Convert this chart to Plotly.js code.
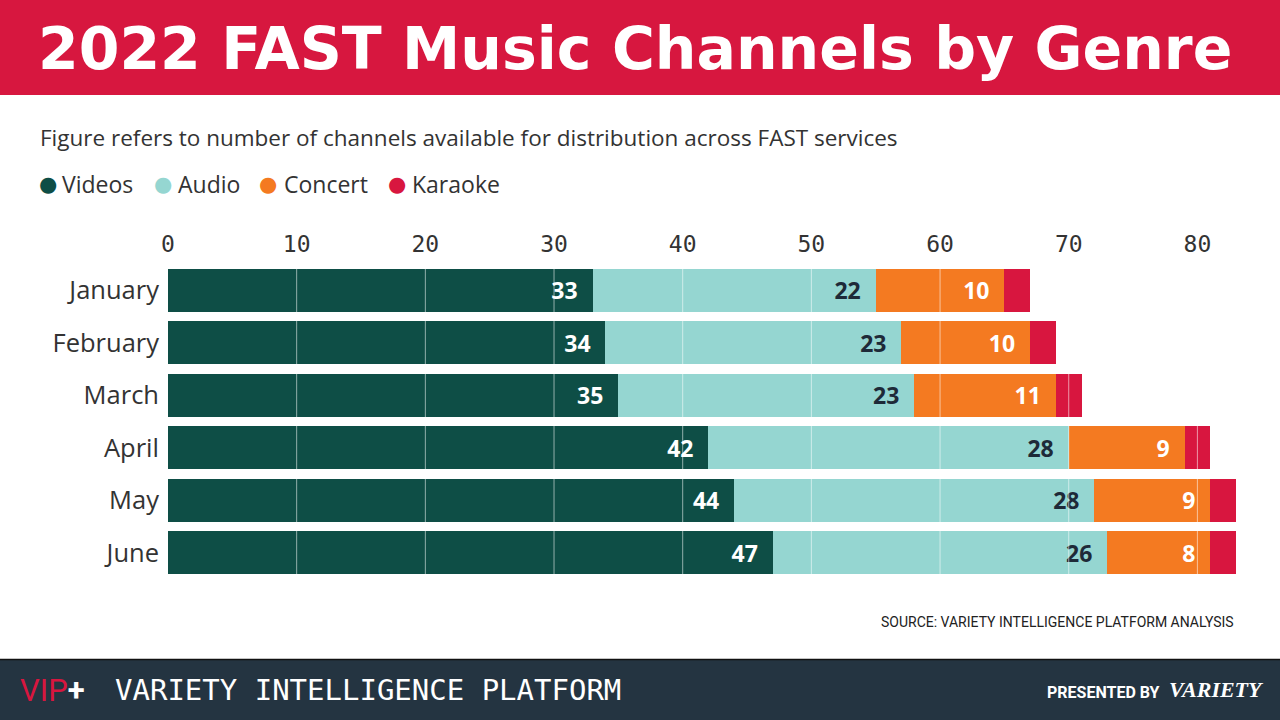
<!DOCTYPE html>
<html>
<head>
<meta charset="utf-8">
<script src="https://cdn.plot.ly/plotly-3.0.1.min.js"></script>
<style>html,body{margin:0;padding:0;background:#fff;}#chart{width:1280px;height:720px;}</style>
</head>
<body>
<div id="chart"></div>
<script>
// ---- data ----
const months = ["January", "February", "March", "April", "May", "June"];
const videos = [33, 34, 35, 42, 44, 47];
const audio = [22, 23, 23, 28, 28, 26];
const concert = [10, 10, 11, 9, 9, 8];
const karaoke = [2, 2, 2, 2, 2, 2];
const seriesNames = ["Videos", "Audio", "Concert", "Karaoke"];
const tickVals = [0, 10, 20, 30, 40, 50, 60, 70, 80];

// ---- styling ----
const colors = ["#0e4e46", "#95d6d1", "#f47a21", "#d8163f"];
const labelColors = ["#ffffff", "#1e2a38", "#ffffff", null];
const W = 1280, H = 720;
const M = {l: 168, r: 44, t: 264, b: 141};
const PW = W - M.l - M.r, PH = H - M.t - M.b;
const X = px => (px - M.l) / PW;
const Y = py => (H - M.b - py) / PH;

const series = [videos, audio, concert, karaoke];
const traces = series.map((vals, i) => ({
  type: "bar",
  orientation: "h",
  name: seriesNames[i],
  y: months,
  x: vals,
  marker: {color: colors[i], line: {width: 0}},
  text: labelColors[i] ? vals.map(String) : null,
  texttemplate: labelColors[i] ? "%{x}\u00a0\u00a0" : undefined,
  textposition: labelColors[i] ? "inside" : "none",
  insidetextanchor: "end",
  textfont: {family: "Open Sans", size: 23, color: labelColors[i] || "#fff", weight: 700},
  constraintext: "none",
  hoverinfo: "skip",
  showlegend: false
}));

const shapes = [
  {type: "rect", xref: "paper", yref: "paper", x0: X(0), x1: X(W), y0: Y(0), y1: Y(95), fillcolor: "#d7173f", line: {width: 0}, layer: "below"},
  {type: "rect", xref: "paper", yref: "paper", x0: X(0), x1: X(W), y0: Y(659), y1: Y(H), fillcolor: "#243441", line: {width: 0}, layer: "below"},
  {type: "line", xref: "paper", yref: "paper", x0: X(0), x1: X(W), y0: Y(659.5), y1: Y(659.5), line: {width: 1.5, color: "#111"}, layer: "below"}
];
tickVals.slice(1).forEach(v => shapes.push({
  type: "line", xref: "x", yref: "paper", x0: v, x1: v, y0: 0, y1: 1,
  line: {color: "rgba(255,255,255,0.55)", width: 1}, layer: "above"
}));

// legend item anchor positions (pixels)
const legendDotX = [47.5, 163, 268, 397];
const legendTextX = [60, 176, 282, 410];
const legendAnn = [];
seriesNames.forEach((n, i) => {
  legendAnn.push({text: "\u25CF", x: X(legendDotX[i]), y: Y(184), xref: "paper", yref: "paper",
    xanchor: "center", yanchor: "middle", showarrow: false,
    font: {family: "DejaVu Sans", size: 21, color: colors[i]}});
  legendAnn.push({text: n, x: X(legendTextX[i]), y: Y(184), xref: "paper", yref: "paper",
    xanchor: "left", yanchor: "middle", showarrow: false,
    font: {family: "Open Sans", size: 23, color: "#333333"}});
});

const annotations = [
  {text: "2022 FAST Music Channels by Genre", x: X(36), y: Y(49), xref: "paper", yref: "paper",
   xanchor: "left", yanchor: "middle", showarrow: false,
   font: {family: "DejaVu Sans", size: 58.5, color: "#ffffff", weight: 700}},
  {text: "Figure refers to number of channels available for distribution across FAST services",
   x: X(38), y: Y(137), xref: "paper", yref: "paper", xanchor: "left", yanchor: "middle", showarrow: false,
   font: {family: "Open Sans", size: 22.5, color: "#333333"}},
  ...legendAnn,
  {text: "SOURCE: VARIETY INTELLIGENCE PLATFORM ANALYSIS", x: X(1236), y: Y(622), xref: "paper", yref: "paper",
   xanchor: "right", yanchor: "middle", showarrow: false,
   font: {family: "Roboto", size: 14, color: "#222222"}},
  {text: "<span style='color:#d8163f'>VIP</span><b>+</b>", x: X(18), y: Y(690), xref: "paper", yref: "paper",
   xanchor: "left", yanchor: "middle", showarrow: false,
   font: {family: "Roboto", size: 31, color: "#ffffff"}},
  {text: "VARIETY INTELLIGENCE PLATFORM", x: X(113), y: Y(690), xref: "paper", yref: "paper",
   xanchor: "left", yanchor: "middle", showarrow: false,
   font: {family: "DejaVu Sans Mono", size: 29, color: "#ffffff"}},
  {text: "PRESENTED BY", x: X(1162), y: Y(692), xref: "paper", yref: "paper",
   xanchor: "right", yanchor: "middle", showarrow: false,
   font: {family: "Roboto", size: 16, color: "#ffffff", weight: 700}},
  {text: "<i>VARIETY</i>", x: X(1266), y: Y(689), xref: "paper", yref: "paper",
   xanchor: "right", yanchor: "middle", showarrow: false,
   font: {family: "Liberation Serif", size: 22, color: "#ffffff", weight: 700}}
];

const layout = {
  width: W, height: H,
  margin: M,
  paper_bgcolor: "#ffffff",
  plot_bgcolor: "#ffffff",
  barmode: "stack",
  bargap: 0.18,
  showlegend: false,
  xaxis: {
    side: "top", range: [0, 83], tickvals: tickVals, ticktext: tickVals.map(String),
    showgrid: false, zeroline: false, showline: false, ticks: "",
    ticklabelstandoff: 6,
    tickfont: {family: "DejaVu Sans Mono", size: 23, color: "#333333"},
    fixedrange: true
  },
  yaxis: {
    autorange: "reversed", showgrid: false, zeroline: false, showline: false, ticks: "",
    ticklabelstandoff: 8,
    tickfont: {family: "Open Sans", size: 25.5, color: "#333333"},
    fixedrange: true
  },
  shapes: shapes,
  annotations: annotations
};

Plotly.newPlot("chart", traces, layout, {staticPlot: true, displayModeBar: false});
</script>
</body>
</html>
